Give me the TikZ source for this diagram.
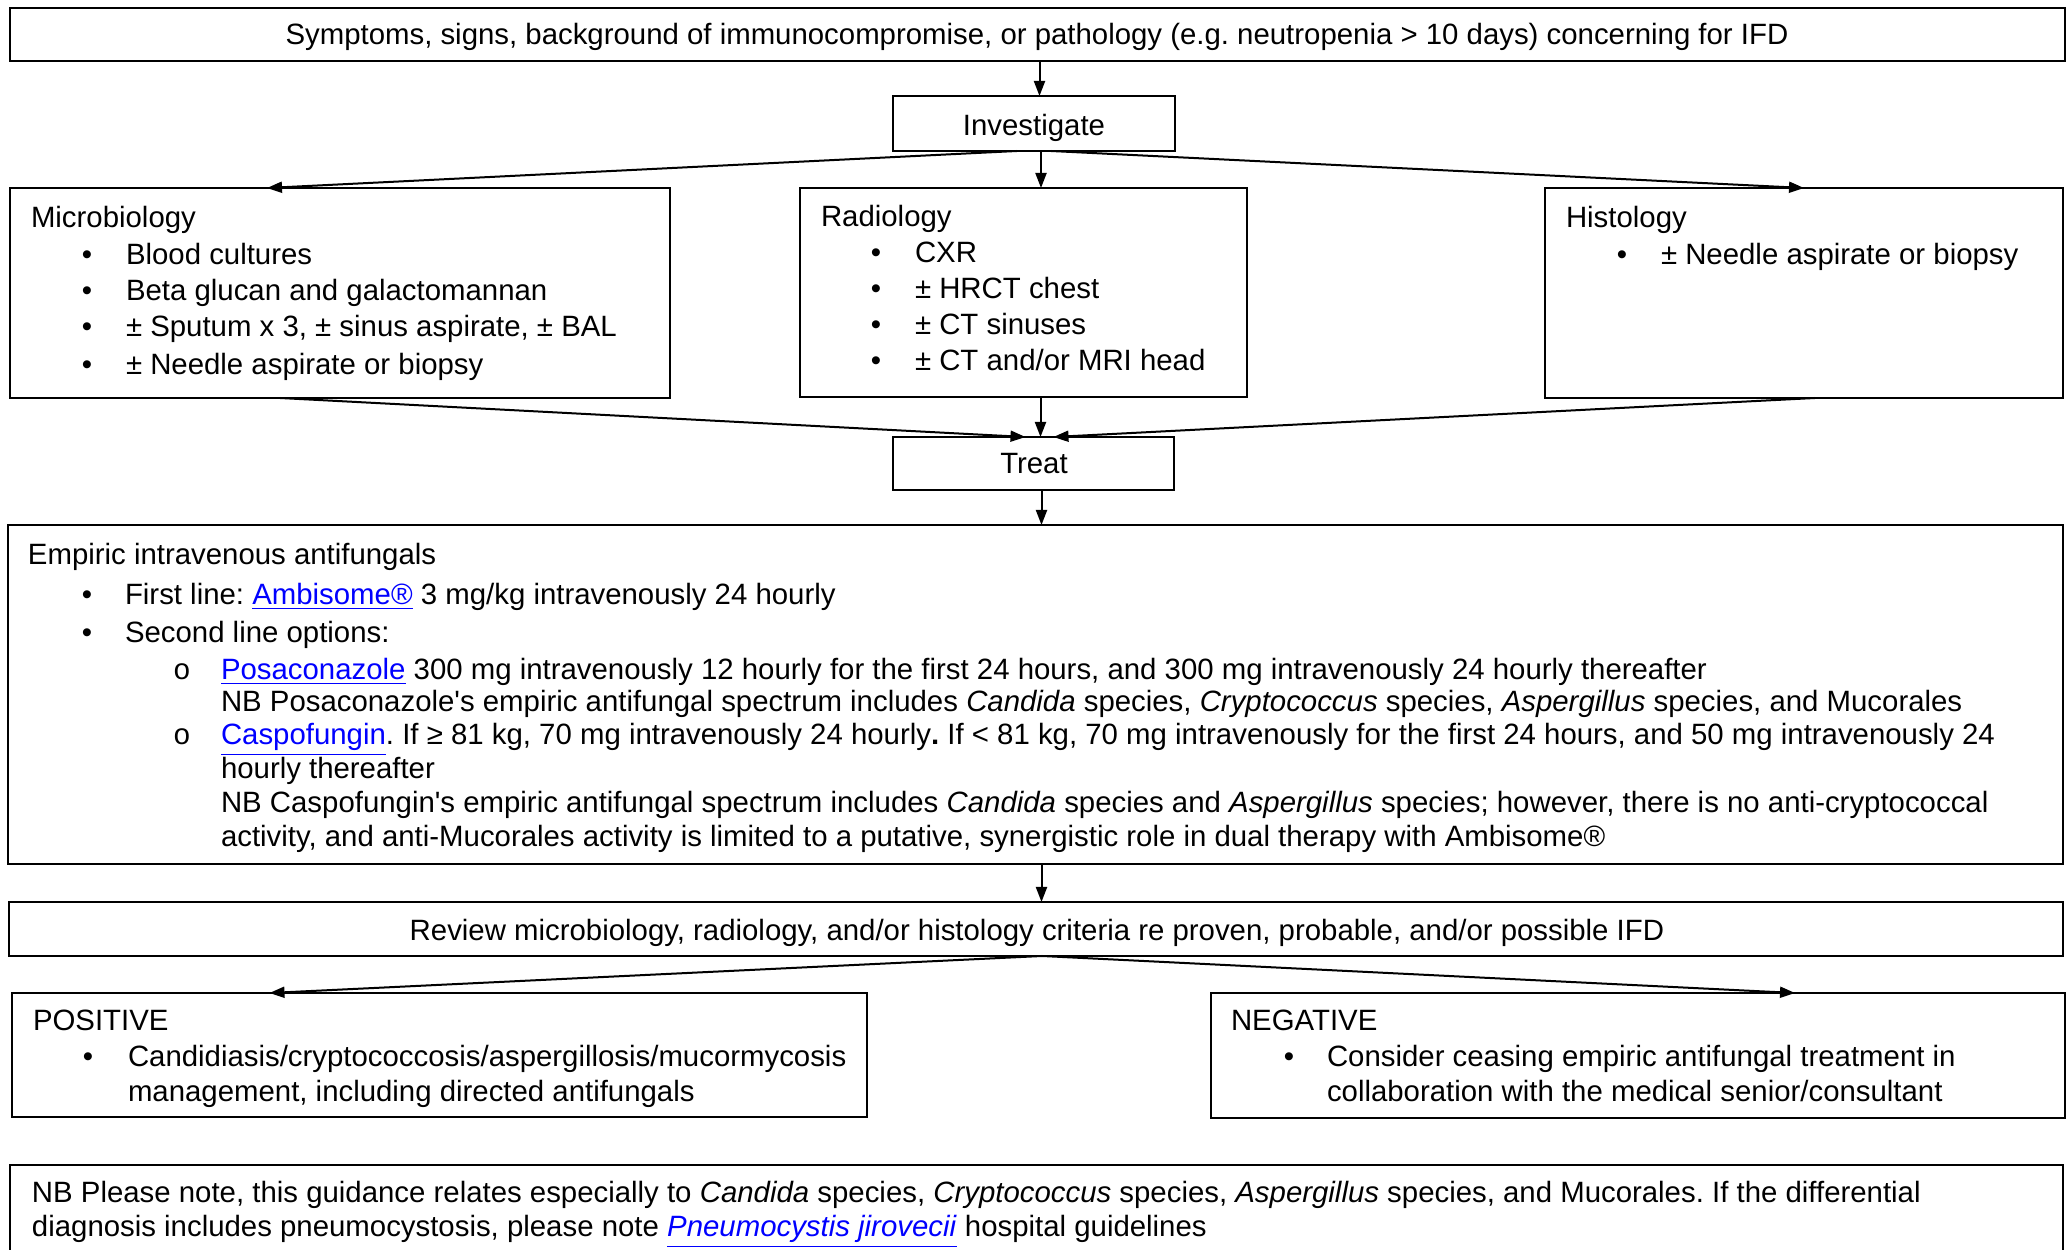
\documentclass[tikz,border=0pt]{standalone}
\usepackage{fontspec}
\setmainfont{Liberation Sans}
\newfontfamily\monofnt{Liberation Mono}
\newfontfamily\apfnt{Liberation Sans}
\usetikzlibrary{arrows.meta,calc}
\definecolor{linkblue}{RGB}{0,0,255}
\newcommand{\lnk}[1]{\textcolor{linkblue}{\underline{#1}}}
\newcommand{\ap}{{\apfnt\char39}}
\tikzset{
 box/.style={draw, line width=0.8pt, inner sep=0pt, outer sep=0pt},
 tx/.style={anchor=base west, inner sep=0pt, outer sep=0pt},
 tc/.style={anchor=base, inner sep=0pt, outer sep=0pt},
 bul/.style={anchor=base, inner sep=0pt, outer sep=0pt},
 conn/.style={line width=0.8pt, -{Triangle[width=4.4pt,length=6pt]}},
}
\begin{document}
\frenchspacing
\begin{tikzpicture}[x=0.4pt,y=-0.4pt, font=\fontsize{11.75pt}{13.5pt}\selectfont]
\useasboundingbox (0,0) rectangle (2069,1250);

% boxes
\node[box, minimum width=822pt, minimum height=21.2pt] (top) at (1037.5,34.5) {};
\node[box, minimum width=112.8pt, minimum height=22pt] (inv) at (1034,123.5) {};
\node[box, minimum width=264pt, minimum height=84pt] (micro) at (340,293) {};
\node[box, minimum width=178.8pt, minimum height=83.6pt] (rad) at (1023.5,292.5) {};
\node[box, minimum width=207.2pt, minimum height=84pt] (histo) at (1804,293) {};
\node[box, minimum width=112.4pt, minimum height=21.2pt] (treat) at (1033.5,463.5) {};
\node[box, minimum width=822pt, minimum height=135.6pt] (emp) at (1035.5,694.5) {};
\node[box, minimum width=821.6pt, minimum height=21.6pt] (rev) at (1036,929) {};
\node[box, minimum width=342pt, minimum height=49.6pt] (pos) at (439.5,1055) {};
\node[box, minimum width=341.6pt, minimum height=50pt] (neg) at (1638,1055.5) {};
\coordinate (nbtl) at (10,1165);
\coordinate (nbtr) at (2063,1165);
\draw[line width=0.8pt] (nbtl |- 0,1260) -- (nbtl) -- (nbtr) -- (nbtr |- 0,1260);

% texts
\node[tc] (toptxt) at (1037,45) {Symptoms, signs, background of immunocompromise, or pathology (e.g. neutropenia > 10 days) concerning for IFD};
\node[tc] (invtxt) at (1034,136) {Investigate};

\node[tx] (m0) at (31,228) {Microbiology};
\node[bul] (mb1) at (87,265) {•}; \node[tx] (m1) at (126,265) {Blood cultures};
\node[bul] (mb2) at (87,301) {•}; \node[tx] (m2) at (126,301) {Beta glucan and galactomannan};
\node[bul] (mb3) at (87,337) {•}; \node[tx] (m3) at (126,337) {± Sputum x 3, ± sinus aspirate, ± BAL};
\node[bul] (mb4) at (87,375) {•}; \node[tx] (m4) at (126,375) {± Needle aspirate or biopsy};

\node[tx] (r0) at (821,227) {Radiology};
\node[bul] (rb1) at (876,263) {•}; \node[tx] (r1) at (915,263) {CXR};
\node[bul] (rb2) at (876,299) {•}; \node[tx] (r2) at (915,299) {± HRCT chest};
\node[bul] (rb3) at (876,335) {•}; \node[tx] (r3) at (915,335) {± CT sinuses};
\node[bul] (rb4) at (876,371) {•}; \node[tx] (r4) at (915,371) {± CT and/or MRI head};

\node[tx] (h0) at (1566,228) {Histology};
\node[bul] (hb1) at (1622,265) {•}; \node[tx] (h1) at (1661,265) {± Needle aspirate or biopsy};

\node[tc] (treattxt) at (1034,474) {Treat};

\node[tx] (e0) at (28,565) {Empiric intravenous antifungals};
\node[bul] (eb1) at (87,605) {•}; \node[tx] (e1) at (125,605) {First line: \lnk{Ambisome®} 3 mg/kg intravenously 24 hourly};
\node[bul] (eb2) at (87,643) {•}; \node[tx] (e2) at (125,643) {Second line options:};
\node[bul] (eo1) at (182,680) {\monofnt o}; \node[tx] (e3) at (221,680) {\lnk{Posaconazole} 300 mg intravenously 12 hourly for the first 24 hours, and 300 mg intravenously 24 hourly thereafter};
\node[tx] (e4) at (221,712) {NB Posaconazole\ap s empiric antifungal spectrum includes \textit{Candida} species, \textit{Cryptococcus} species, \textit{Aspergillus} species, and Mucorales};
\node[bul] (eo2) at (182,745) {\monofnt o}; \node[tx] (e5) at (221,745) {\lnk{Caspofungin}. If ≥ 81 kg, 70 mg intravenously 24 hourly\textbf{.} If < 81 kg, 70 mg intravenously for the first 24 hours, and 50 mg intravenously 24};
\node[tx] (e6) at (221,779) {hourly thereafter};
\node[tx] (e7) at (221,813) {NB Caspofungin\ap s empiric antifungal spectrum includes \textit{Candida} species and \textit{Aspergillus} species; however, there is no anti-cryptococcal};
\node[tx] (e8) at (221,847) {activity, and anti-Mucorales activity is limited to a putative, synergistic role in dual therapy with Ambisome®};

\node[tc] (revtxt) at (1037,941) {Review microbiology, radiology, and/or histology criteria re proven, probable, and/or possible IFD};

\node[tx] (p0) at (33,1031) {POSITIVE};
\node[bul] (pb1) at (88,1067) {•}; \node[tx] (p1) at (128,1067) {Candidiasis/cryptococcosis/aspergillosis/mucormycosis};
\node[tx] (p2) at (128,1102) {management, including directed antifungals};

\node[tx] (n0) at (1231,1031) {NEGATIVE};
\node[bul] (nb1) at (1289,1067) {•}; \node[tx] (n1) at (1327,1067) {Consider ceasing empiric antifungal treatment in};
\node[tx] (n2) at (1327,1102) {collaboration with the medical senior/consultant};

\node[tx] (nb1t) at (32,1203) {NB Please note, this guidance relates especially to \textit{Candida} species, \textit{Cryptococcus} species, \textit{Aspergillus} species, and Mucorales. If the differential};
\node[tx] (nb2t) at (32,1237) {diagnosis includes pneumocystosis, please note \lnk{\textit{Pneumocystis jirovecii}} hospital guidelines};

% connector end points
\coordinate (c1) at ($(top.south)+(2,0)$);
\coordinate (c2) at ($(inv.south)+(7,0)$);
\coordinate (c3) at ($(rad.south)+(17,0)$);
\coordinate (c4) at ($(treat.south)+(8,0)$);
\coordinate (c5) at ($(emp.south)+(6,0)$);
\coordinate (c6) at ($(rev.south)+(6,0)$);

% connectors
\draw[conn] (c1) -- (c1 |- inv.north);
\draw[conn] (c2) -- (c2 |- rad.north);
\draw[conn] ($(inv.south)+(-17,0)$) -- ($(micro.north)+(-73,0)$);
\draw[conn] ($(inv.south)+(17,0)$) -- (histo.north);
\draw[conn] ($(micro.south)+(-60,0)$) -- ($(treat.north)+(-8,0)$);
\draw[conn] ($(histo.south)+(11,0)$) -- ($(treat.north)+(20,0)$);
\draw[conn] (c3) -- (c3 |- treat.north);
\draw[conn] (c4) -- (c4 |- emp.north);
\draw[conn] (c5) -- (c5 |- rev.north);
\draw[conn] (c6) -- ($(pos.north)+(-170,0)$);
\draw[conn] (c6) -- ($(neg.north)+(157,0)$);
\end{tikzpicture}
\end{document}
